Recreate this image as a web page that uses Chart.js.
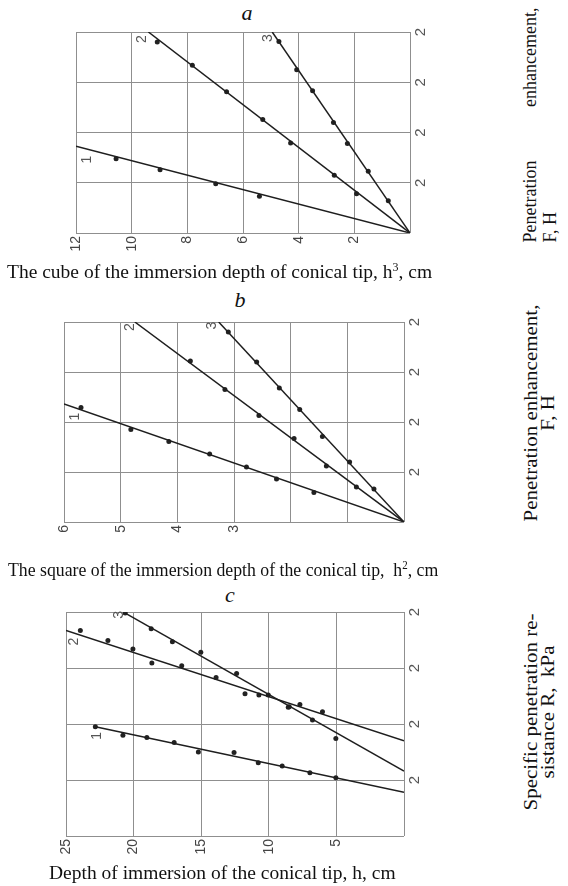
<!DOCTYPE html>
<html>
<head>
<meta charset="utf-8">
<script src="https://cdn.jsdelivr.net/npm/chart.js@4.4.1/dist/chart.umd.min.js"></script>
<style>
  html, body { margin: 0; padding: 0; background: #fff; }
  #page { position: relative; width: 568px; height: 886px; overflow: hidden;
          font-family: "Liberation Serif", "Times New Roman", serif; color: #111; }
  #page canvas { position: absolute; left: 0; }
  .lbl { position: absolute; white-space: nowrap; font-size: 19.5px; line-height: 20px; transform-origin: left center; }
  .letter { position: absolute; width: 40px; text-align: center; font-style: italic; font-size: 22px; line-height: 24px; }
  .side { position: absolute; font-size: 18px; line-height: 20px; white-space: nowrap; transform-origin: center center; }
</style>
</head>
<body>
<div id="page">
  <div class="letter" style="left:227px; top:1px;">a</div>
  <canvas id="chartA" width="440" height="262" style="top:0px;"></canvas>
  <div class="lbl" style="left:7px; top:262px;">The cube of the immersion depth of conical tip, h<sup style="font-size:12px; line-height:0;">3</sup>, cm</div>

  <div class="letter" style="left:220px; top:288px;">b</div>
  <canvas id="chartB" width="440" height="260" style="top:290px;"></canvas>
  <div class="lbl" style="left:8px; top:560px; transform:scaleX(0.91);">The square of the immersion depth of the conical tip,&nbsp; h<sup style="font-size:12px; line-height:0;">2</sup>, cm</div>

  <div class="letter" style="left:210px; top:583px;">c</div>
  <canvas id="chartC" width="440" height="280" style="top:580px;"></canvas>
  <div class="lbl" style="left:49px; top:863px;">Depth of immersion of the conical tip, h, cm</div>

  <div class="side" style="left:422px; top:105px; width:235px; height:40px; transform:rotate(-90deg);">
    <div style="text-align:justify; text-align-last:justify;">Penetration enhancement,</div>
    <div>F, H</div>
  </div>
  <div class="side" style="left:430px; top:393px; width:220px; height:40px; text-align:center; font-size:21px; transform:rotate(-90deg) scaleY(0.85);">
    Penetration enhancement,<br>F, H
  </div>
  <div class="side" style="left:440px; top:692px; width:200px; height:40px; text-align:center; font-size:21px; transform:rotate(-90deg) scaleY(0.85);">
    Specific penetration re-<br>sistance R,&nbsp; kPa
  </div>
</div>

<script>
// ── Panel a: F vs h^3 ──────────────────────────────────────────────
const a1x = [10.56, 8.98, 6.98, 5.41];
const a1y = [1.48, 1.26, 0.98, 0.73];
const a2x = [9.08, 7.82, 6.59, 5.29, 4.29, 2.72, 1.92];
const a2y = [3.80, 3.34, 2.81, 2.26, 1.79, 1.15, 0.78];
const a3x = [4.71, 4.07, 3.50, 2.75, 2.25, 1.50, 0.78];
const a3y = [3.81, 3.25, 2.83, 2.20, 1.78, 1.23, 0.64];
const aFitX = [[12, 0], [9.40, 0], [4.95, 0]];
const aFitY = [[1.725, 0], [4.0, 0], [4.0, 0]];
const aXLabels = [12, 10, 8, 6, 4, 2];
const aNumX = [11.6, 9.64, 5.09];
const aNumY = [1.46, 3.86, 3.88];

// ── Panel b: F vs h^2 ──────────────────────────────────────────────
const b1x = [5.70, 4.82, 4.15, 3.43, 2.78, 2.25, 1.59];
const b1y = [2.29, 1.85, 1.61, 1.36, 1.10, 0.86, 0.59];
const b2x = [3.77, 3.16, 2.56, 1.94, 1.37, 0.84];
const b2y = [3.22, 2.65, 2.13, 1.67, 1.12, 0.70];
const b3x = [3.10, 2.60, 2.20, 1.84, 1.44, 0.96, 0.53];
const b3y = [3.80, 3.20, 2.68, 2.25, 1.71, 1.20, 0.66];
const bFitX = [[6.0, 0], [4.75, 0], [3.27, 0]];
const bFitY = [[2.36, 0], [4.0, 0], [4.0, 0]];
const bXLabels = [6, 5, 4, 3];
const bNumX = [5.80, 4.84, 3.38];
const bNumY = [2.11, 3.90, 3.93];

// ── Panel c: R vs h ────────────────────────────────────────────────
const c1x = [22.83, 20.79, 19.02, 17.0, 15.21, 12.57, 10.78, 9.01, 6.96, 5.04];
const c1y = [1.95, 1.80, 1.76, 1.67, 1.50, 1.49, 1.31, 1.25, 1.13, 1.04];
const c2x = [23.94, 21.90, 20.05, 18.65, 16.44, 13.90, 11.76, 10.73, 8.49, 7.70, 6.03];
const c2y = [3.67, 3.49, 3.34, 3.09, 3.04, 2.83, 2.54, 2.52, 2.31, 2.35, 2.22];
const c3x = [20.62, 18.70, 17.13, 15.03, 12.38, 10.04, 8.56, 6.77, 5.04];
const c3y = [3.98, 3.70, 3.47, 3.28, 2.90, 2.52, 2.30, 2.07, 1.74];
const cFitX = [[22.83, 0], [25, 0], [20.62, 0]];
const cFitY = [[1.95, 0.78], [3.67, 1.70], [3.98, 1.16]];
const cXLabels = [25, 20, 15, 10, 5];
const cNumX = [22.7, 24.4, 21.1];
const cNumY = [1.79, 3.47, 3.95];

// right-hand tick labels are unreadable in the source, printed as "2"
const yLabels = ['', '2', '2', '2', '2'];
const curveNames = ['1', '2', '3'];

const SANS = '"Liberation Sans", Arial, sans-serif';
const GRID = '#8f8f8f';

const toPts = (xs, ys) => xs.map((x, i) => ({ x, y: ys[i] }));

// draws rotated y labels on the right and curve numbers
function annotations(numX, numY) {
  return {
    id: 'annot',
    afterDraw(chart) {
      const { ctx, chartArea, scales: { x, y } } = chart;
      const rot = (t, px, py) => {
        ctx.save();
        ctx.translate(px, py);
        ctx.rotate(-Math.PI / 2);
        ctx.fillText(t, 0, 0);
        ctx.restore();
      };
      ctx.save();
      ctx.font = '15px ' + SANS;
      ctx.fillStyle = '#555';
      ctx.textAlign = 'center';
      ctx.textBaseline = 'middle';
      yLabels.forEach((t, i) => { if (t) rot(t, chartArea.right + 11, y.getPixelForValue(i)); });
      ctx.font = '14px ' + SANS;
      curveNames.forEach((t, i) => rot(t, x.getPixelForValue(numX[i]), y.getPixelForValue(numY[i])));
      ctx.restore();
    }
  };
}

function panel(id, o) {
  const datasets = [];
  o.fitX.forEach((fx, i) => datasets.push({
    data: toPts(fx, o.fitY[i]),
    showLine: true, borderColor: '#1e1e1e', borderWidth: 1.5, pointRadius: 0
  }));
  o.pts.forEach(([xs, ys]) => datasets.push({
    data: toPts(xs, ys),
    pointRadius: 2.5, pointBackgroundColor: '#222', pointBorderWidth: 0
  }));

  new Chart(document.getElementById(id), {
    type: 'scatter',
    data: { datasets },
    options: {
      responsive: false,
      animation: false,
      layout: { padding: { left: o.left, top: o.top, right: 0, bottom: 0 } },
      plugins: { legend: { display: false }, tooltip: { enabled: false } },
      scales: {
        x: {
          type: 'linear', reverse: true, min: 0, max: o.xMax,
          ticks: {
            stepSize: o.xStep, autoSkip: false, minRotation: 90, maxRotation: 90, padding: 3,
            color: '#444', font: { size: 14, family: SANS },
            callback: v => o.xLabels.includes(v) ? String(v) : ''
          },
          grid: { color: GRID, drawTicks: false },
          border: { display: false },
          afterFit: s => { s.height = o.xH; }
        },
        y: {
          type: 'linear', position: 'right', min: 0, max: 4,
          ticks: { display: false, stepSize: 1 },
          grid: { color: GRID, drawTicks: false },
          border: { display: false },
          afterFit: s => { s.width = o.yW; }
        }
      }
    },
    plugins: [annotations(o.numX, o.numY)]
  });
}

panel('chartA', {
  pts: [[a1x, a1y], [a2x, a2y], [a3x, a3y]], fitX: aFitX, fitY: aFitY,
  xMax: 12, xStep: 2, xLabels: aXLabels, numX: aNumX, numY: aNumY,
  left: 76, top: 32, xH: 29, yW: 30
});
panel('chartB', {
  pts: [[b1x, b1y], [b2x, b2y], [b3x, b3y]], fitX: bFitX, fitY: bFitY,
  xMax: 6, xStep: 1, xLabels: bXLabels, numX: bNumX, numY: bNumY,
  left: 64, top: 32, xH: 28, yW: 36
});
panel('chartC', {
  pts: [[c1x, c1y], [c2x, c2y], [c3x, c3y]], fitX: cFitX, fitY: cFitY,
  xMax: 25, xStep: 5, xLabels: cXLabels, numX: cNumX, numY: cNumY,
  left: 66, top: 32, xH: 24, yW: 36
});
</script>
</body>
</html>
